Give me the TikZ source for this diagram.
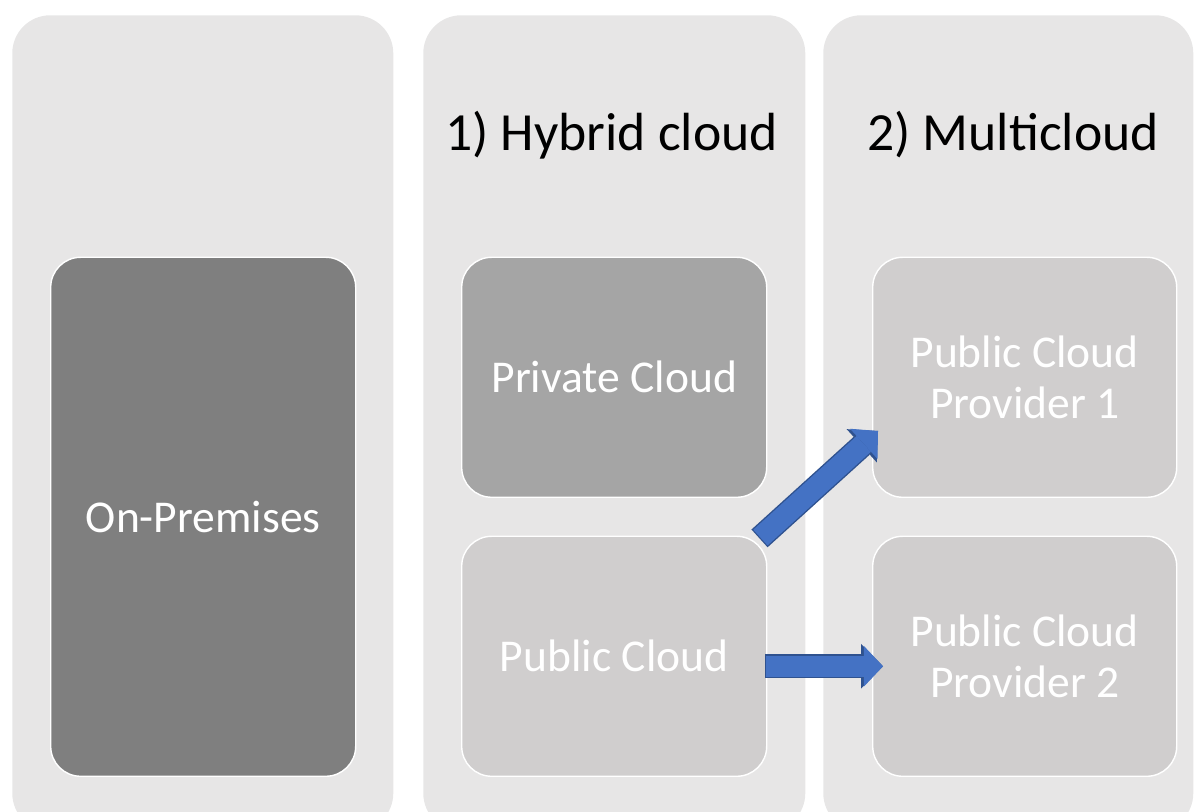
\documentclass[tikz,border=0pt]{standalone}
\usepackage{fontspec}
\setmainfont{Carlito}
\usetikzlibrary{positioning,arrows.meta,calc}
\definecolor{panelbg}{HTML}{E7E6E6}
\definecolor{onprem}{HTML}{7F7F7F}
\definecolor{priv}{HTML}{A5A5A5}
\definecolor{pubc}{HTML}{D0CECE}
\definecolor{arrowfill}{HTML}{4472C4}
\definecolor{arrowline}{HTML}{2F528F}
\tikzset{
  panel/.style={rounded corners=0.95cm, fill=panelbg, minimum width=9.55cm,
    minimum height=20.4cm, inner sep=0pt, anchor=north west},
  tile/.style={rounded corners=0.75cm, fill=#1, draw=white, line width=1pt,
    minimum width=7.625cm, minimum height=6cm, inner sep=0pt, align=center,
    text=white, font=\fontsize{32.4}{36.3}\selectfont, anchor=south west},
  tile/.default=pubc,
  ctitle/.style={font=\fontsize{38.2}{44}\selectfont, text=black},
  barrow/.style={line width=0.53cm, color=arrowfill,
    -{Triangle[length=0.48cm,width=1.02cm,line width=0pt]},
    preaction={draw=arrowline, line width=0.6cm, shorten <=-0.03cm,
      -{Triangle[length=0.55cm,width=1.12cm,line width=0pt]}}},
}

\begin{document}
\begin{tikzpicture}[x=1cm,y=1cm]
  \useasboundingbox (0,0) rectangle (29.85,20.3);
  \clip (0,0) rectangle (29.85,20.3);
  % columns
  \node[panel, minimum width=9.525cm] (p1) at (0.3,19.925) {};
  \node[panel] (p2) at (10.575,19.925) {};
  \node[panel, minimum width=9.25cm] (p3) at (20.575,19.925) {};
  % headings
  \node[ctitle] (t1) at (15.29,16.925) {1) Hybrid cloud};
  \node[ctitle] (t2) at (25.325,16.925) {2) Multicloud};
  % tiles
  \node[tile=onprem, minimum height=12.975cm] (onprem) at (1.25,0.875) {On-Premises};
  \node[tile=priv] (private) at (11.525,7.85) {Private Cloud};
  \node[tile] (public) at (11.525,0.875) {Public Cloud};
  \node[tile, minimum width=7.6cm] (prov1) at (21.8,7.85) {Public Cloud\\Provider 1};
  \node[tile, minimum width=7.6cm] (prov2) at (21.8,0.875) {Public Cloud\\Provider 2};
  % arrows
  \draw[barrow] ($(public.north east)+(-0.175,-0.05)$) -- ($(prov1.south west)+(0.15,1.675)$);
  \draw[barrow] ($(public.east)+(-0.025,-0.25)$) -- ($(prov2.west)+(0.275,-0.25)$);
\end{tikzpicture}
\end{document}
